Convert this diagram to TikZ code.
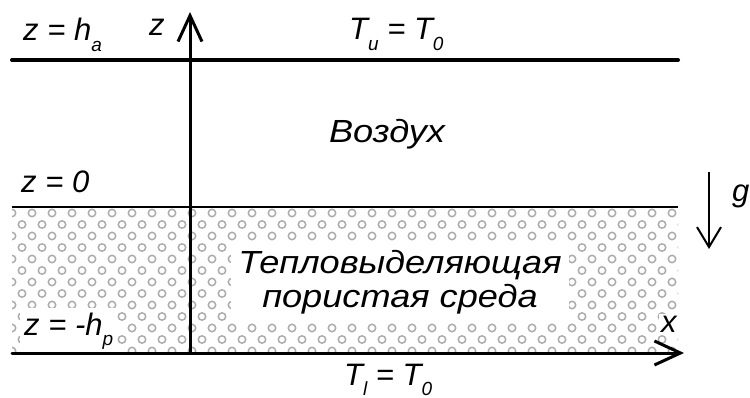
\documentclass[tikz,border=0pt]{standalone}
\usepackage{fontspec}
\setmainfont{Liberation Sans}
\newfontfamily\rusfont{Liberation Sans}[FakeStretch=1.13]
\usepackage{tikz}
\usetikzlibrary{
  arrows.meta,
  positioning,
}
\newcommand{\lowidx}[1]{\raisebox{-0.33em}{\fontsize{19}{19}\selectfont #1}}

\begin{document}
\begin{tikzpicture}[
    x=1pt, y=-1pt,
    lbl/.style={font=\fontsize{31}{33}\selectfont\itshape, inner sep=1pt,
                anchor=base west},
    rus/.style={font=\fontsize{32}{34}\selectfont\rusfont\itshape, inner sep=1pt},
    bound/.style={line width=4pt, line cap=round},
    axis/.style={line width=3pt, -{Straight Barb[length=26pt, width=24pt]}},
    pore/.style={draw=gray!65, line width=1.5pt},
  ]
  \useasboundingbox (0,0) rectangle (750,398);

  % porous layer
  \begin{scope}
    \clip (12,208) rectangle (678,351);
    \foreach \j in {0,...,12}
      \foreach \i in {0,...,34}
        \draw[pore] ({12+20*\i+10*mod(\j,2)},{213+11.5*\j}) circle (3.7pt);
  \end{scope}

  % white patches over the pores
  \node[lbl, fill=white, inner xsep=4pt, inner ysep=5pt] (zhp) at (20,335)
    {z = -h\lowidx{p}};
  \node[lbl, fill=white, inner sep=2pt] (xax) at (659,332) {x};
  \node[rus, align=center, fill=white, inner sep=7pt]
    (medium) at (400,282) {Тепловыделяющая\\пористая среда};

  \coordinate (topL) at (12,60);
  \coordinate (topR) at (678,60);
  \coordinate (midL) at (12,207);
  \coordinate (midR) at (678,207);
  \coordinate (botL) at (12,353);
  \coordinate (botR) at (684,353);
  \coordinate (zbot) at (190,353);
  \coordinate (ztop) at (190,12);
  \coordinate (gtop) at (709,172);
  \coordinate (gtip) at (709,249);

  \draw[bound] (topL) -- (topR);
  \draw[line width=2.6pt] (midL) -- (midR);
  \draw[axis, line cap=round] (botL) -- (botR);
  \draw[axis] (zbot) -- (ztop);
  \draw[line width=2pt, -{Straight Barb[length=20pt, width=24pt]}] (gtop) -- (gtip);

  \node[lbl] (zha) at (22,41) {z = h\lowidx{a}};
  \node[lbl] (zax) at (148,36) {z};
  \node[lbl] (tup) at (348,40) {T\lowidx{u} = T\lowidx{0}};
  \node[rus, anchor=base] (air) at (387,143) {Воздух};
  \node[lbl] (zzero) at (20,193) {z = 0};
  \node[lbl] (tlo) at (343,385) {T\lowidx{l} = T\lowidx{0}};
  \node[lbl] (gv) at (731,202) {g};
\end{tikzpicture}
\end{document}
